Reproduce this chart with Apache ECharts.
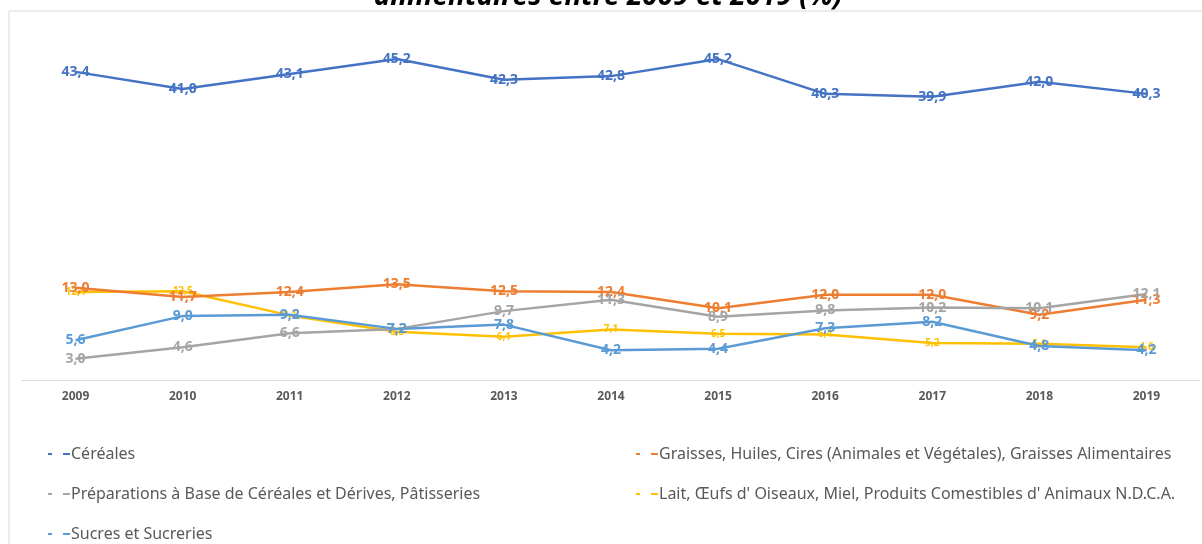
<!DOCTYPE html>
<html>
<head>
<meta charset="utf-8">
<title>Importations alimentaires 2009-2019</title>
<script src="https://cdn.jsdelivr.net/npm/echarts@6/dist/echarts.min.js"></script>
<style>
  html, body { margin: 0; padding: 0; background: #fff; }
  #chart { width: 1202px; height: 544px; }
</style>
</head>
<body>
<div id="chart"></div>
<script>
// years on the x axis
const years = ['2009', '2010', '2011', '2012', '2013', '2014', '2015', '2016', '2017', '2018', '2019'];

// shares in %
const cereales = [43.4, 41.0, 43.1, 45.2, 42.3, 42.8, 45.2, 40.3, 39.9, 42.0, 40.3];
const graisses = [13.0, 11.7, 12.4, 13.5, 12.5, 12.4, 10.1, 12.0, 12.0, 9.2, 11.3];
const preparations = [3.0, 4.6, 6.6, 7.2, 9.7, 11.3, 8.9, 9.8, 10.2, 10.1, 12.1];
const lait = [12.4, 12.5, 9.1, 6.8, 6.1, 7.1, 6.5, 6.4, 5.2, 5.1, 4.6];
const sucres = [5.6, 9.0, 9.2, 7.2, 7.8, 4.2, 4.4, 7.3, 8.2, 4.8, 4.2];

const seriesNames = [
  'Céréales',
  'Graisses, Huiles, Cires (Animales et Végétales), Graisses Alimentaires',
  'Préparations à Base de Céréales et Dérives, Pâtisseries',
  'Lait, Œufs d\' Oiseaux, Miel, Produits Comestibles d\' Animaux N.D.C.A.',
  'Sucres et Sucreries'
];

const FONT = '"Noto Sans", "Open Sans", sans-serif';
// legend marker: two little dashes like the original
const dashIcon = 'path://M0,0h4v2h-4z M15,0h7v2h-7z';

function makeLine(name, data, color, small) {
  return {
    name: name,
    type: 'line',
    data: data,
    symbol: 'circle',
    symbolSize: 0,
    lineStyle: { color: color, width: 2.5 },
    itemStyle: { color: color },
    label: {
      show: true,
      position: 'inside',
      color: color,
      fontFamily: FONT,
      fontWeight: 'bold',
      fontSize: small ? 10 : 14,
      formatter: p => p.value.toFixed(1).replace('.', ',')
    },
    emphasis: { disabled: true },
    z: small ? 1 : 2
  };
}

const legendText = { color: '#595959', fontFamily: FONT, fontSize: 16, padding: [0, 0, 0, -4] };

const chart = echarts.init(document.getElementById('chart'));

chart.setOption({
  animation: false,
  graphic: [
    {
      type: 'rect',
      shape: { x: 9, y: 11, width: 1400, height: 700 },
      style: { fill: 'none', stroke: '#d9d9d9', lineWidth: 1 },
      silent: true
    },
    {
      type: 'text',
      x: 608,
      y: -3,
      style: {
        text: 'alimentaires entre 2009 et 2019 (%)',
        fontFamily: FONT,
        fontSize: 28,
        fontWeight: 'bold',
        fontStyle: 'italic',
        fill: '#000',
        align: 'center',
        verticalAlign: 'middle'
      }
    }
  ],
  grid: { left: 22, right: 2, top: 25, bottom: 164, containLabel: false },
  xAxis: {
    type: 'category',
    data: years,
    boundaryGap: true,
    axisLine: { lineStyle: { color: '#d9d9d9', width: 1 } },
    axisTick: { show: false },
    axisLabel: {
      color: '#595959',
      fontFamily: FONT,
      fontWeight: 'bold',
      fontSize: 12,
      margin: 11
    }
  },
  yAxis: {
    type: 'value',
    min: 0,
    max: 50,
    show: false,
    splitLine: { show: false }
  },
  legend: [
    {
      data: [seriesNames[0], seriesNames[2], seriesNames[4]],
      orient: 'vertical',
      left: 43,
      top: 441,
      height: 200,
      itemWidth: 22,
      itemHeight: 2.5,
      itemGap: 24,
      icon: dashIcon,
      textStyle: legendText
    },
    {
      data: [seriesNames[1], seriesNames[3]],
      orient: 'vertical',
      left: 631,
      top: 441,
      height: 200,
      itemWidth: 22,
      itemHeight: 2.5,
      itemGap: 24,
      icon: dashIcon,
      textStyle: legendText
    }
  ],
  series: [
    makeLine(seriesNames[0], cereales, '#4472C4', false),
    makeLine(seriesNames[1], graisses, '#ED7D31', false),
    makeLine(seriesNames[2], preparations, '#A5A5A5', false),
    makeLine(seriesNames[3], lait, '#FFC000', true),
    makeLine(seriesNames[4], sucres, '#5B9BD5', false)
  ]
});
</script>
</body>
</html>
